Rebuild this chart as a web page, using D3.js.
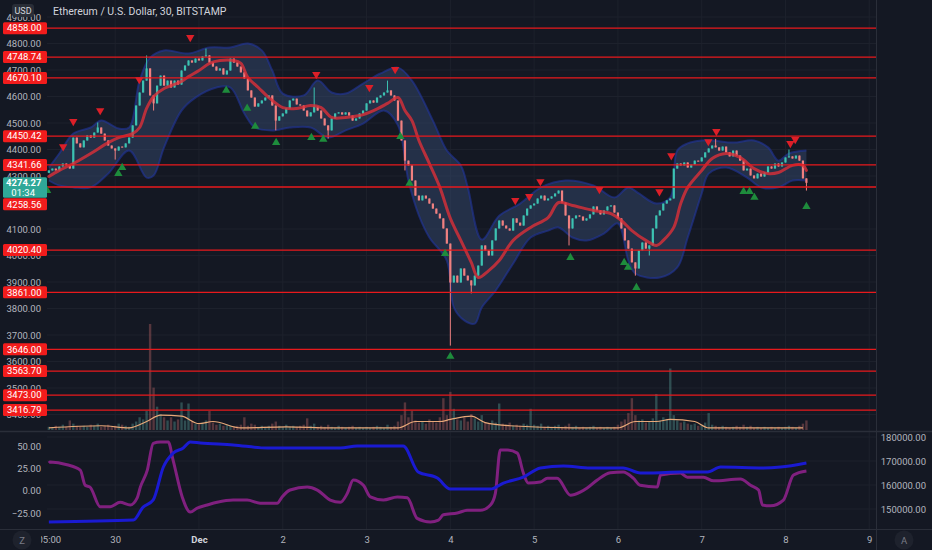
<!DOCTYPE html>
<html>
<head>
<meta charset="utf-8">
<script src="https://cdn.jsdelivr.net/npm/d3@7"></script>
<style>
html, body { margin: 0; padding: 0; background: #141823; overflow: hidden; }
text { font-family: Roboto, "Noto Sans", sans-serif; }
</style>
</head>
<body>
<svg id="chart" width="932" height="550"></svg>
<script>
// ========== data (hourly candles, ETH/USD) ==========
const startTime = new Date(2021, 10, 29, 5, 0);
const firstOpen = 4312;
const closes = [
  4321, 4328, 4321, 4336, 4347, 4340, 4328, 4445, 4423, 4408,
  4434, 4453, 4445, 4464, 4483, 4460, 4434, 4415, 4404, 4396,
  4411, 4408, 4423, 4445, 4491, 4566, 4615, 4660, 4706, 4604,
  4574, 4641, 4679, 4641, 4660, 4634, 4660, 4645, 4698, 4717,
  4736, 4728, 4743, 4736, 4751, 4755, 4728, 4713, 4698, 4706,
  4683, 4698, 4743, 4728, 4713, 4691, 4668, 4623, 4596, 4562,
  4574, 4585, 4596, 4604, 4566, 4509, 4525, 4536, 4555, 4585,
  4592, 4570, 4566, 4547, 4525, 4540, 4562, 4547, 4517, 4491,
  4472, 4517, 4536, 4540, 4532, 4540, 4528, 4509, 4517, 4536,
  4547, 4574, 4585, 4577, 4596, 4604, 4615, 4623, 4604, 4585,
  4509, 4434, 4358, 4340, 4283, 4226, 4208, 4226, 4215, 4196,
  4177, 4158, 4140, 4102, 4045, 3898, 3924, 3898, 3951, 3924,
  3906, 3887, 3924, 3962, 4038, 4019, 4000, 4057, 4102, 4132,
  4113, 4102, 4094, 4140, 4124, 4113, 4151, 4177, 4189, 4196,
  4215, 4226, 4208, 4215, 4223, 4234, 4245, 4200, 4151, 4102,
  4140, 4151, 4147, 4132, 4140, 4155, 4185, 4170, 4155, 4170,
  4185, 4189, 4162, 4140, 4102, 4057, 4026, 3974, 3951, 4019,
  4049, 4026, 4038, 4102, 4151, 4170, 4196, 4208, 4215, 4328,
  4347, 4340, 4351, 4332, 4343, 4358, 4355, 4370, 4389, 4404,
  4415, 4408, 4396, 4411, 4389, 4374, 4396, 4377, 4358, 4321,
  4328, 4302, 4291, 4309, 4298, 4313, 4336, 4328, 4347, 4336,
  4351, 4370, 4374, 4366, 4377, 4358, 4291, 4274.27
];
// [hour, high, low] for the visible long wicks
const wicks = [
  [14, 4502, null], [19, null, 4362], [28, 4755, null], [30, null, 4547],
  [45, 4781, null], [65, null, 4472], [76, 4634, null], [80, null, 4441],
  [97, 4660, null], [102, null, 4321], [115, null, 3660], [121, null, 3857],
  [149, null, 4038], [168, null, 3924], [172, null, 4000], [191, 4440, null],
  [212, 4400, null], [217, null, 4245]
];
const volumes = [
  3, 2, 4, 3, 5, 3, 9, 6, 4, 3,   4, 3, 5, 4, 6, 3, 4, 5, 3, 4,
  6, 5, 4, 3, 6, 8, 12, 10, 18, 100,   40, 22, 15, 12, 9, 12, 8, 10, 26, 9,
  25, 8, 6, 5, 7, 9, 18, 7, 5, 6,   4, 5, 4, 3, 4, 5, 12, 4, 6, 5,
  3, 4, 3, 4, 6, 8, 4, 3, 5, 3,   4, 3, 4, 5, 11, 4, 6, 3, 4, 3,
  5, 3, 2, 4, 3, 2, 3, 4, 2, 3,   2, 3, 2, 3, 4, 3, 2, 5, 3, 4,
  8, 14, 26, 12, 18, 9, 7, 8, 6, 10,   8, 7, 12, 30, 14, 36, 20, 10, 9, 12,
  8, 15, 11, 8, 14, 7, 6, 9, 7, 25,   6, 5, 7, 4, 5, 4, 6, 5, 20, 5,
  4, 6, 3, 4, 3, 4, 5, 3, 4, 6,   3, 4, 2, 3, 2, 3, 4, 2, 3, 2,
  3, 2, 3, 5, 8, 10, 16, 30, 14, 9,   10, 7, 8, 11, 34, 9, 12, 10, 58, 14,
  9, 7, 8, 6, 5, 6, 4, 5, 7, 16,   5, 4, 3, 4, 3, 2, 3, 4, 3, 5,
  3, 4, 2, 3, 2, 3, 2, 3, 2, 3,   2, 3, 4, 3, 2, 4, 6, 9
];
const volumeMA = [[0, 2], [15, 4], [23, 2], [28, 8], [32, 14], [38, 13], [43, 6], [47, 8], [55, 2],
  [68, 3], [81, 2], [100, 2], [105, 8], [112, 8], [115, 10], [121, 13], [125, 7], [132, 4], [150, 2],
  [163, 2], [168, 8], [174, 8], [178, 10], [185, 8], [189, 2], [202, 2], [216, 2]];
const maLine = [[0, 4298], [3, 4321], [7, 4347], [12, 4385], [17, 4426], [20, 4445], [24, 4460], [26, 4483],
  [28, 4555], [30, 4600], [33, 4630], [38, 4657], [40, 4675], [43, 4698], [46, 4725], [49, 4736], [53, 4736],
  [55, 4725], [57, 4672], [60, 4634], [63, 4596], [67, 4558], [71, 4555], [75, 4566], [78, 4558], [81, 4521],
  [85, 4521], [89, 4528], [93, 4547], [97, 4574], [100, 4596], [102, 4547], [104, 4509], [106, 4434], [109, 4347],
  [112, 4257], [115, 4140], [118, 4057], [121, 3974], [123, 3917], [126, 3943], [129, 3981], [133, 4057],
  [138, 4106], [143, 4143], [146, 4200], [150, 4189], [156, 4170], [161, 4158], [164, 4132], [167, 4094],
  [171, 4057], [174, 4038], [176, 4057], [179, 4106], [181, 4196], [183, 4257], [187, 4321], [190, 4366],
  [194, 4385], [198, 4370], [202, 4328], [206, 4309], [209, 4313], [213, 4340], [216, 4340], [217, 4321]];
const bandUpper = [[0, 4332], [3, 4385], [7, 4460], [12, 4483], [15, 4509], [20, 4479], [23, 4483], [26, 4660],
  [29, 4747], [33, 4774], [40, 4762], [46, 4785], [52, 4785], [57, 4800], [61, 4774], [64, 4698], [67, 4611],
  [73, 4604], [77, 4660], [81, 4615], [85, 4611], [90, 4649], [95, 4687], [100, 4709], [104, 4660], [110, 4509],
  [114, 4396], [118, 4340], [120, 4257], [124, 4060], [129, 4150], [135, 4196], [141, 4257], [148, 4283],
  [156, 4264], [162, 4219], [166, 4257], [169, 4234], [174, 4196], [178, 4219], [180, 4396], [183, 4423],
  [187, 4434], [190, 4434], [196, 4426], [202, 4434], [206, 4408], [209, 4358], [212, 4385], [217, 4396]];
const bandLower = [[0, 4283], [3, 4264], [7, 4257], [12, 4257], [17, 4309], [23, 4396], [28, 4294], [30, 4302],
  [33, 4408], [38, 4547], [42, 4596], [48, 4634], [52, 4634], [56, 4536], [59, 4483], [64, 4472], [69, 4483],
  [75, 4483], [80, 4445], [85, 4472], [90, 4498], [96, 4547], [100, 4491], [103, 4283], [106, 4151], [109, 4068],
  [114, 3981], [116, 3804], [119, 3755], [122, 3743], [124, 3804], [128, 3868], [133, 3970], [138, 4068],
  [143, 4094], [146, 4106], [150, 4068], [154, 4057], [159, 4083], [163, 4121], [166, 3981], [168, 3932],
  [175, 3917], [180, 3955], [183, 4068], [187, 4234], [189, 4309], [194, 4332], [200, 4294], [204, 4257],
  [209, 4257], [213, 4283], [217, 4283]];
const sellMarks = [[4.1, 4411], [7.0, 4506], [14.7, 4547], [25.9, 4664], [40.5, 4823], [76.6, 4683], [91.8, 4634],
  [99.2, 4702], [133.6, 4208], [137.6, 4223], [140.8, 4279], [157.7, 4249], [174.9, 4241], [178.3, 4377],
  [188.9, 4430], [191.2, 4468], [212.4, 4423], [213.8, 4438]];
const buyMarks = [[-0.5, 4245], [19.9, 4309], [21.0, 4332], [50.8, 4623], [56.8, 4555], [59.1, 4487], [65.1, 4426],
  [75.2, 4445], [78.6, 4438], [100.7, 4449], [103.3, 4272], [113.5, 4007], [115.0, 3619], [149.4, 3992],
  [164.8, 3973], [165.9, 3955], [168.3, 3879], [199.0, 4241], [200.7, 4241], [202.1, 4219], [217.0, 4185]];
const levels = [4858.00, 4748.74, 4670.10, 4450.42, 4341.66, 4258.56, 4020.40, 3861.00, 3646.00, 3563.70, 3473.00, 3416.79, 3313.00];
const lastPrice = 4274.27;
const countdown = "01:34";
const priceTicks = [4900, 4800, 4700, 4600, 4500, 4400, 4300, 4100, 4000, 3900, 3800, 3700, 3600, 3500, 3400];
const oscTicks = [50, 25, 0, -25];
const rightTicks = [180000, 170000, 160000, 150000];
const purpleLine = [[0, 31], [0.4, 32], [5.2, 29], [9.0, 23], [10.4, 6], [11.8, 4], [14.7, -18], [17.6, -18], [20.4, -13],
  [23.3, -16], [25.3, -8], [26.2, 4], [28.2, 23], [29.9, 53], [31.9, 54.5], [34.2, 54.5], [35.6, 34], [38.2, -7],
  [40.5, -24], [42.5, -19.5], [45.4, -16], [48.2, -13], [52.8, -10.5], [56.8, -10.5], [60.5, -14], [65.4, -14],
  [66.8, -7], [69.1, 0.7], [74.0, 4], [76.9, 0.7], [80.6, -10.5], [83.5, -13], [85.5, -3], [87.2, 12], [90.1, 6],
  [92.1, -7], [95.8, -10.5], [99.8, -7], [102.7, -8], [105.5, -31], [109.3, -35], [111.6, -33], [113.0, -27],
  [117.0, -25], [119.9, -22], [123.6, -22], [126.5, -16], [127.9, -3], [129.3, 45.5], [131.3, 45.5], [134.2, 42],
  [135.9, 20], [137.3, 8.5], [140.8, 9.6], [142.8, 14], [145.6, 14], [149.4, -5], [152.2, -1.6], [154.2, 3],
  [157.1, 12], [160.8, 20], [164.5, 21], [167.4, 14], [169.4, 6], [174.3, 4], [175.2, 17.5], [180.9, 19.7],
  [182.9, 15], [187.5, 15], [190.4, 11], [198.1, 13], [201.0, 6], [203.3, 0.7], [204.4, -16], [206.7, -17],
  [210.4, -10.5], [213.3, 17.5], [217, 22]];
const blueLine = [[0, 144600], [24.2, 145400], [27.0, 150800], [29.9, 153800], [32.8, 167500], [35.6, 173300],
  [38.5, 175400], [40.5, 177900], [43.4, 177500], [52.8, 176700], [62.5, 175400], [72.0, 175400], [83.5, 175400],
  [88.3, 176200], [101.5, 176200], [105.8, 165400], [111.3, 162900], [115.0, 158300], [126.5, 158300],
  [130.2, 160800], [135.9, 163300], [140.8, 167100], [147.4, 167900], [155.1, 167100], [164.5, 167100],
  [169.4, 165000], [172.3, 165000], [180.9, 165400], [188.7, 165400], [192.4, 167500], [204.7, 167100],
  [209.6, 167500], [217, 169200]];
const timeTickDates = [new Date(2021, 10, 29, 5), new Date(2021, 10, 30), new Date(2021, 11, 1), new Date(2021, 11, 2),
  new Date(2021, 11, 3), new Date(2021, 11, 4), new Date(2021, 11, 5), new Date(2021, 11, 6), new Date(2021, 11, 7),
  new Date(2021, 11, 8), new Date(2021, 11, 9)];
const timeTickLabels = ["05:00", "30", "Dec", "2", "3", "4", "5", "6", "7", "8", "9"];

// ========== chart setup ==========
const svg = d3.select("#chart");
const left = 47, right = 877, mainBottom = 431, oscBottom = 529;
const axisColor = "#b2b5be", gridColor = "#1d212c", borderColor = "#2a2e39";

svg.append("rect").attr("width", 932).attr("height", 550).attr("fill", "#141823");

const defs = svg.append("defs");
defs.append("clipPath").attr("id", "clipMain").append("rect")
  .attr("x", left).attr("y", 0).attr("width", right - left).attr("height", mainBottom);
defs.append("clipPath").attr("id", "clipOsc").append("rect")
  .attr("x", left).attr("y", mainBottom + 1).attr("width", right - left).attr("height", oscBottom - mainBottom - 1);
defs.append("clipPath").attr("id", "clipLabels").append("rect")
  .attr("x", 0).attr("y", 0).attr("width", left).attr("height", mainBottom);
defs.append("clipPath").attr("id", "clipTime").append("rect")
  .attr("x", 41).attr("y", oscBottom).attr("width", right - 41).attr("height", 550 - oscBottom);

// ========== scales ==========
const x = d3.scaleTime()
  .domain([new Date(2021, 10, 29, 4, 28), new Date(2021, 11, 9, 2, 13)])
  .range([left, right]);
const hourDate = h => new Date(startTime.getTime() + h * 3600e3);
const xh = h => x(hourDate(h));
const y = d3.scaleLinear().domain([3400, 4800]).range([414.5, 43.5]);
const yVol = d3.scaleLinear().domain([0, 100]).range([430, 324]);
const yOsc = d3.scaleLinear().domain([-25, 50]).range([513, 446]);
const yRight = d3.scaleLinear().domain([150000, 180000]).range([509, 437]);

// ========== grid ==========
const grid = svg.append("g");
grid.selectAll(".vg").data(timeTickDates.slice(1)).enter().append("line")
  .attr("x1", d => x(d)).attr("x2", d => x(d)).attr("y1", 0).attr("y2", oscBottom)
  .attr("stroke", gridColor).attr("stroke-width", 1);
grid.selectAll(".hg").data(priceTicks).enter().append("line")
  .attr("x1", left).attr("x2", right).attr("y1", d => y(d)).attr("y2", d => y(d))
  .attr("stroke", gridColor).attr("stroke-width", 1);
grid.selectAll(".og").data(rightTicks).enter().append("line")
  .attr("x1", left).attr("x2", right).attr("y1", d => yRight(d)).attr("y2", d => yRight(d))
  .attr("stroke", gridColor).attr("stroke-width", 1);

// ========== main pane ==========
const main = svg.append("g").attr("clip-path", "url(#clipMain)");

// band
const curve = d3.line().x(d => xh(d[0])).y(d => y(d[1])).curve(d3.curveCatmullRom);
const upperPath = curve(bandUpper);
const lowerPath = curve(bandLower.slice().reverse());
main.append("path").attr("d", upperPath + "L" + lowerPath.slice(1) + "Z")
  .attr("fill", "#3d5480").attr("fill-opacity", 0.4);
[bandUpper, bandLower].forEach(b => {
  main.append("path").attr("d", curve(b)).attr("fill", "none")
    .attr("stroke", "#22369c").attr("stroke-width", 2).attr("stroke-opacity", 0.6);
});

// candles
const candles = closes.map((c, i) => {
  const o = i === 0 ? firstOpen : closes[i - 1];
  return {i, o, c, h: Math.max(o, c), l: Math.min(o, c), v: volumes[i]};
});
wicks.forEach(([i, h, l]) => {
  if (h !== null) candles[i].h = Math.max(candles[i].h, h);
  if (l !== null) candles[i].l = Math.min(candles[i].l, l);
});
const upColor = "#3cc2b2", downColor = "#f08080";

// volume
main.append("g").selectAll("rect").data(candles).enter().append("rect")
  .attr("x", d => xh(d.i) - 1.2).attr("width", 2.4)
  .attr("y", d => yVol(d.v)).attr("height", d => yVol(0) - yVol(d.v))
  .attr("fill", d => d.c >= d.o ? "#4f8f89" : "#a65a5e").attr("fill-opacity", 0.45);
main.append("path")
  .attr("d", d3.line().x(d => xh(d[0])).y(d => yVol(d[1])).curve(d3.curveMonotoneX)(volumeMA))
  .attr("fill", "none").attr("stroke", "#e8a878").attr("stroke-width", 1.2);

const cg = main.append("g");
cg.selectAll("line").data(candles).enter().append("line")
  .attr("x1", d => xh(d.i)).attr("x2", d => xh(d.i))
  .attr("y1", d => y(d.h)).attr("y2", d => y(d.l))
  .attr("stroke", d => d.c >= d.o ? upColor : downColor).attr("stroke-width", 1);
cg.selectAll("rect").data(candles).enter().append("rect")
  .attr("x", d => xh(d.i) - 1.1).attr("width", 2.2)
  .attr("y", d => y(Math.max(d.o, d.c)))
  .attr("height", d => Math.max(1, Math.abs(y(d.o) - y(d.c))))
  .attr("fill", d => d.c >= d.o ? upColor : downColor);

// moving average
main.append("path").attr("d", curve(maLine)).attr("fill", "none")
  .attr("stroke", "#dc3038").attr("stroke-width", 3).attr("stroke-opacity", 0.8)
  .attr("stroke-linecap", "round");

// level lines
main.selectAll(".lvl").data(levels).enter().append("line")
  .attr("x1", left).attr("x2", right).attr("y1", d => y(d)).attr("y2", d => y(d))
  .attr("stroke", "#e8191c").attr("stroke-width", 1.3);

// markers
main.selectAll(".sell").data(sellMarks).enter().append("path")
  .attr("d", d3.symbol(d3.symbolTriangle, 30))
  .attr("transform", d => `translate(${xh(d[0])},${y(d[1])}) rotate(180)`)
  .attr("fill", "#dc1f28");
main.selectAll(".buy").data(buyMarks).enter().append("path")
  .attr("d", d3.symbol(d3.symbolTriangle, 30))
  .attr("transform", d => `translate(${xh(d[0])},${y(d[1])})`)
  .attr("fill", "#1e8c3c");

// ========== lower pane ==========
const osc = svg.append("g").attr("clip-path", "url(#clipOsc)");
osc.append("path")
  .attr("d", d3.line().x(d => xh(d[0])).y(d => yOsc(d[1])).curve(d3.curveMonotoneX)(purpleLine))
  .attr("fill", "none").attr("stroke", "#80207f").attr("stroke-width", 3);
osc.append("path")
  .attr("d", d3.line().x(d => xh(d[0])).y(d => yRight(d[1])).curve(d3.curveMonotoneX)(blueLine))
  .attr("fill", "none").attr("stroke", "#1a1ad2").attr("stroke-width", 3);

// ========== borders ==========
svg.append("line").attr("x1", 0).attr("x2", 932).attr("y1", mainBottom + 0.5).attr("y2", mainBottom + 0.5)
  .attr("stroke", borderColor).attr("stroke-width", 1.5);
svg.append("line").attr("x1", 0).attr("x2", 932).attr("y1", oscBottom + 0.5).attr("y2", oscBottom + 0.5)
  .attr("stroke", borderColor).attr("stroke-width", 1);
svg.append("line").attr("x1", right - 0.5).attr("x2", right - 0.5).attr("y1", 0).attr("y2", 550)
  .attr("stroke", borderColor).attr("stroke-width", 1);

// ========== axes ==========
const priceAxis = svg.append("g").attr("transform", "translate(41,0)")
  .call(d3.axisLeft(y).tickValues(priceTicks).tickFormat(d3.format(".2f")).tickSize(0).tickPadding(0));
const oscAxis = svg.append("g").attr("transform", "translate(41,0)")
  .call(d3.axisLeft(yOsc).tickValues(oscTicks).tickFormat(d3.format(".2f")).tickSize(0).tickPadding(0));
const rightAxis = svg.append("g").attr("transform", "translate(926,0)")
  .call(d3.axisLeft(yRight).tickValues(rightTicks).tickFormat(d3.format(".2f")).tickSize(0).tickPadding(0));
const timeAxis = svg.append("g").attr("clip-path", "url(#clipTime)")
  .append("g").attr("transform", `translate(0,${oscBottom + 4})`)
  .call(d3.axisBottom(x).tickValues(timeTickDates).tickFormat((d, i) => timeTickLabels[i]).tickSize(0).tickPadding(3));
[priceAxis, oscAxis, rightAxis, timeAxis].forEach(a => {
  a.select(".domain").remove();
  a.selectAll("text").attr("fill", axisColor).attr("font-size", "9.5px").attr("font-family", "Roboto, 'Noto Sans', sans-serif");
});
timeAxis.selectAll("text").filter((d, i) => timeTickLabels[i] === "Dec").attr("font-weight", "bold").attr("fill", "#d1d4dc");

// level labels on the price scale
const labels = svg.append("g").attr("clip-path", "url(#clipLabels)");
const curY = y(lastPrice);
const curTop = curY - 5.5, curBottom = curY + 15;
const labelY = levels.map(l => {
  const ly = y(l);
  return (ly + 6 > curTop && ly - 6 < curBottom) ? curBottom + 6.5 : ly;
});
levels.forEach((l, k) => {
  const ly = labelY[k];
  labels.append("rect").attr("x", 3).attr("y", ly - 6).attr("width", 44).attr("height", 12)
    .attr("rx", 1.5).attr("fill", "#f21c1c");
  labels.append("text").attr("x", 41.5).attr("y", ly + 3.3).attr("text-anchor", "end")
    .attr("fill", "#ffffff").attr("font-size", "9.5px").text(d3.format(".2f")(l));
});
labels.append("rect").attr("x", 3).attr("y", curTop).attr("width", 44).attr("height", curBottom - curTop)
  .attr("rx", 1.5).attr("fill", "#2fa898");
labels.append("text").attr("x", 41.5).attr("y", curY + 3.3).attr("text-anchor", "end")
  .attr("fill", "#ffffff").attr("font-size", "9.5px").attr("font-weight", "bold").text(d3.format(".2f")(lastPrice));
labels.append("text").attr("x", 35).attr("y", curY + 13).attr("text-anchor", "end")
  .attr("fill", "#ffffff").attr("font-size", "9.5px").text(countdown);

// ========== titles and buttons ==========
svg.append("rect").attr("x", 12).attr("y", 4).attr("width", 22).attr("height", 13).attr("rx", 3)
  .attr("fill", "#2a2e39").attr("fill-opacity", 0.95);
svg.append("text").attr("x", 23).attr("y", 13.8).attr("text-anchor", "middle")
  .attr("fill", "#d1d4dc").attr("font-size", "9px").text("USD");
svg.append("text").attr("x", 53).attr("y", 15).attr("fill", "#d1d4dc").attr("font-size", "10.5px")
  .text("Ethereum / U.S. Dollar, 30, BITSTAMP");

[["Z", 22], ["A", 904]].forEach(([t, cx]) => {
  svg.append("circle").attr("cx", cx).attr("cy", 540).attr("r", 9.5).attr("fill", "#1e222d");
  svg.append("text").attr("x", cx).attr("y", 543.5).attr("text-anchor", "middle")
    .attr("fill", "#787b86").attr("font-size", "9.5px").text(t);
});
</script>
</body>
</html>
